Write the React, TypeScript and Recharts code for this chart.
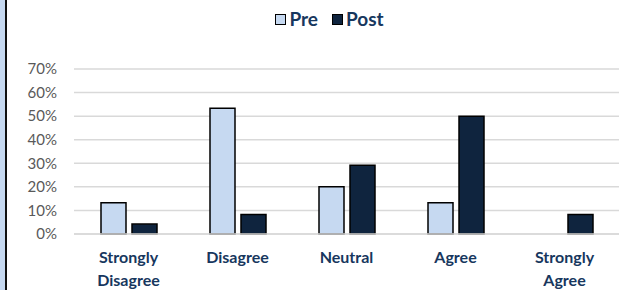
import { BarChart, Bar, XAxis, YAxis, CartesianGrid, Legend } from "recharts";

const categories = ["Strongly Disagree", "Disagree", "Neutral", "Agree", "Strongly Agree"];
const preValues = [0.133, 0.533, 0.2, 0.133, 0];
const postValues = [0.042, 0.083, 0.292, 0.5, 0.083];
const yTicks = [0, 0.1, 0.2, 0.3, 0.4, 0.5, 0.6, 0.7];

const data = categories.map((name, i) => ({
  name,
  Pre: preValues[i],
  Post: postValues[i],
}));

const FONT = "Lato, 'Open Sans', sans-serif";
const NAVY = "#17375e";
const PRE_FILL = "#c6d9f1";
const POST_FILL = "#0f243e";

const CategoryTick = ({ x, y, payload }: any) => {
  const words = String(payload.value).split(" ");
  return (
    <g transform={`translate(${x},${y})`}>
      {words.map((w, i) => (
        <text
          key={i}
          x={0}
          y={21 + i * 23}
          textAnchor="middle"
          fill={NAVY}
          fontFamily={FONT}
          fontWeight={700}
          fontSize={16}
        >
          {w}
        </text>
      ))}
    </g>
  );
};

const LegendBox = () => (
  <div
    style={{
      display: "flex",
      justifyContent: "center",
      alignItems: "center",
      fontFamily: FONT,
      fontWeight: 700,
      fontSize: 19,
      lineHeight: "20px",
      color: NAVY,
      gap: 14,
      paddingLeft: 40,
    }}
  >
    {[
      { label: "Pre", fill: PRE_FILL },
      { label: "Post", fill: POST_FILL },
    ].map((item) => (
      <span key={item.label} style={{ display: "flex", alignItems: "center", gap: 3 }}>
        <span
          style={{
            display: "inline-block",
            width: 9,
            height: 9,
            background: item.fill,
            border: "1.5px solid #000",
          }}
        />
        {item.label}
      </span>
    ))}
  </div>
);

export default function App() {
  return (
    <div style={{ position: "relative", width: 628, height: 290, background: "#fff", overflow: "hidden" }}>
      <style>{"body{margin:0}"}</style>
      <div
        style={{
          position: "absolute",
          left: 0,
          top: 0,
          width: 5,
          height: 290,
          background: "#c6d9f1",
          borderRight: "2px solid #111",
          zIndex: 1,
        }}
      />
      <BarChart
        width={628}
        height={290}
        data={data}
        margin={{ top: 49, right: 9, bottom: 0, left: 0 }}
        barSize={25}
        barGap={6}
      >
        <CartesianGrid vertical={false} stroke="#d9d9d9" strokeWidth={1.5} />
        <XAxis
          dataKey="name"
          height={56}
          axisLine={{ stroke: "#d9d9d9", strokeWidth: 1.5 }}
          tickLine={false}
          tick={<CategoryTick />}
          interval={0}
        />
        <YAxis
          width={74}
          domain={[0, 0.7]}
          ticks={yTicks}
          tickFormatter={(v: number) => `${Math.round(v * 100)}%`}
          axisLine={false}
          tickLine={false}
          tickSize={0}
          tickMargin={17}
          tick={{ fill: "#595959", fontSize: 15, fontFamily: FONT }}
        />
        <Legend
          verticalAlign="top"
          content={<LegendBox />}
          wrapperStyle={{ top: 9 }}
        />
        <Bar dataKey="Pre" fill={PRE_FILL} stroke="#000" strokeWidth={1.5} isAnimationActive={false} />
        <Bar dataKey="Post" fill={POST_FILL} stroke="#000" strokeWidth={1.5} isAnimationActive={false} />
      </BarChart>
    </div>
  );
}
